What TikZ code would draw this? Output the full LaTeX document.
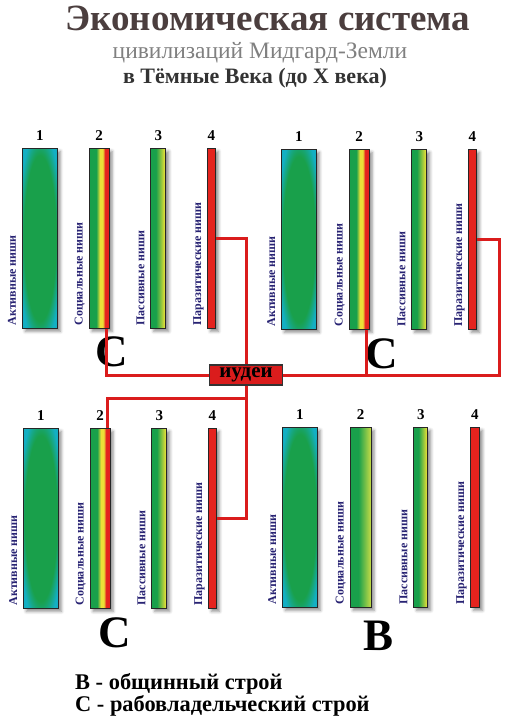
\documentclass[tikz,border=0pt]{standalone}
\usepackage{fontspec}
\setmainfont{Liberation Serif}
\usepackage{tikz}
\usetikzlibrary{positioning, shadows.blur}
\definecolor{nichegreen}{RGB}{25, 160, 75}
\definecolor{nichecyan}{RGB}{20, 175, 195}
\definecolor{nicheyellow}{RGB}{235, 225, 55}
\definecolor{nichelime}{RGB}{200, 220, 70}
\definecolor{nichered}{RGB}{228, 35, 30}
\definecolor{linkred}{RGB}{218, 28, 28}
\definecolor{labelblue}{RGB}{40, 35, 115}
\definecolor{titlegray}{RGB}{75, 62, 62}
\pgfdeclareradialshading{active}{\pgfpoint{0bp}{0bp}}{color(0bp)=(nichegreen); color(23bp)=(nichegreen); color(31bp)=(nichecyan); color(50bp)=(nichecyan)}
\pgfdeclarehorizontalshading{socialC}{100bp}{color(0bp)=(nichegreen); color(43bp)=(nichegreen); color(52bp)=(nicheyellow); color(59bp)=(nicheyellow); color(65bp)=(nichered); color(100bp)=(nichered)}
\pgfdeclarehorizontalshading{socialB}{100bp}{color(0bp)=(nichegreen); color(45bp)=(nichegreen); color(75bp)=(nichelime); color(100bp)=(nichelime)}
\pgfdeclarehorizontalshading{passive}{100bp}{color(0bp)=(nichegreen); color(42bp)=(nichegreen); color(72bp)=(nicheyellow); color(100bp)=(nicheyellow)}
\tikzset{
    bar/.style={rectangle, draw=black!85, line width=0.7pt, inner sep=0pt, minimum height=180pt, blur shadow={shadow xshift=3pt, shadow yshift=-3pt, shadow blur radius=3pt, shadow opacity=45}},
    activebar/.style={bar, minimum width=35pt, shading=active},
    socialbar/.style={bar, minimum width=20pt, shading=socialC},
    passivebar/.style={bar, minimum width=15pt, shading=passive},
    parasitebar/.style={bar, minimum width=8pt, fill=nichered},
    num/.style={inner sep=0pt, font=\bfseries\fontsize{15}{15}\selectfont},
    nichelbl/.style={rotate=90, anchor=base west, inner sep=0pt, text=labelblue, font=\bfseries\fontsize{12}{12}\selectfont},
    order/.style={inner sep=0pt, font=\bfseries\fontsize{45}{45}\selectfont},
    link/.style={draw=linkred, line width=3pt},
    ideabox/.style={rectangle, draw=black!80, line width=1.2pt, fill=linkred, minimum width=73pt, minimum height=20pt, inner sep=0pt, font=\bfseries\fontsize{21}{21}\selectfont}
}
\begin{document}
\begin{tikzpicture}[x=1pt, y=-1pt]
        \useasboundingbox (0,0) rectangle (505,719);

        % Title
        \node [text=titlegray, font=\bfseries\fontsize{37}{37}\selectfont] (title) at (268,18) {Экономическая система};
        \node [text=black!50, font=\fontsize{23.5}{23.5}\selectfont] (subtitle) at (260,53) {цивилизаций Мидгард-Земли};
        \node [text=black!80, font=\bfseries\fontsize{22}{22}\selectfont] (epoch) at (255,78) {в Тёмные Века (до X века)};

        % Panel 1 (top left)
        \node [activebar, anchor=north west] (p1a) at (22,148) {};
        \node [socialbar, right=31pt of p1a] (p1s) {};
        \node [passivebar, right=41pt of p1s] (p1v) {};
        \node [parasitebar, right=41pt of p1v] (p1p) {};
        \node [num, above=7pt of p1a] (n1a) {1};
        \node [num, above=7pt of p1s] (n1s) {2};
        \node [num, above=7pt of p1v] (n1v) {3};
        \node [num, above=7pt of p1p] (n1p) {4};
        \node [nichelbl] (l1a) at ([xshift=-6pt, yshift=3pt]p1a.south west) {Активные ниши};
        \node [nichelbl] (l1s) at ([xshift=-6pt, yshift=3pt]p1s.south west) {Социальные ниши};
        \node [nichelbl] (l1v) at ([xshift=-6pt, yshift=3pt]p1v.south west) {Пассивные ниши};
        \node [nichelbl] (l1p) at ([xshift=-6pt, yshift=3pt]p1p.south west) {Паразитические ниши};
        \node [order] (o1) at (112,352) {С};

        % Panel 2 (top right)
        \node [activebar, anchor=north west] (p2a) at (281,149) {};
        \node [socialbar, right=32pt of p2a] (p2s) {};
        \node [passivebar, right=42pt of p2s] (p2v) {};
        \node [parasitebar, right=41pt of p2v] (p2p) {};
        \node [num, above=7pt of p2a] (n2a) {1};
        \node [num, above=7pt of p2s] (n2s) {2};
        \node [num, above=7pt of p2v] (n2v) {3};
        \node [num, above=7pt of p2p] (n2p) {4};
        \node [nichelbl] (l2a) at ([xshift=-6pt, yshift=3pt]p2a.south west) {Активные ниши};
        \node [nichelbl] (l2s) at ([xshift=-6pt, yshift=3pt]p2s.south west) {Социальные ниши};
        \node [nichelbl] (l2v) at ([xshift=-6pt, yshift=3pt]p2v.south west) {Пассивные ниши};
        \node [nichelbl] (l2p) at ([xshift=-6pt, yshift=3pt]p2p.south west) {Паразитические ниши};
        \node [order] (o2) at (382,354) {С};

        % Panel 3 (bottom left)
        \node [activebar, anchor=north west] (p3a) at (23,428) {};
        \node [socialbar, right=31pt of p3a] (p3s) {};
        \node [passivebar, right=41pt of p3s] (p3v) {};
        \node [parasitebar, right=41pt of p3v] (p3p) {};
        \node [num, above=7pt of p3a] (n3a) {1};
        \node [num, above=7pt of p3s] (n3s) {2};
        \node [num, above=7pt of p3v] (n3v) {3};
        \node [num, above=7pt of p3p] (n3p) {4};
        \node [nichelbl] (l3a) at ([xshift=-6pt, yshift=3pt]p3a.south west) {Активные ниши};
        \node [nichelbl] (l3s) at ([xshift=-6pt, yshift=3pt]p3s.south west) {Социальные ниши};
        \node [nichelbl] (l3v) at ([xshift=-6pt, yshift=3pt]p3v.south west) {Пассивные ниши};
        \node [nichelbl] (l3p) at ([xshift=-6pt, yshift=3pt]p3p.south west) {Паразитические ниши};
        \node [order] (o3) at (115,633) {С};

        % Panel 4 (bottom right)
        \node [activebar, anchor=north west] (p4a) at (282,427) {};
        \node [socialbar, shading=socialB, minimum width=21pt, right=32pt of p4a] (p4s) {};
        \node [passivebar, minimum width=14pt, right=42pt of p4s] (p4v) {};
        \node [parasitebar, minimum width=9pt, right=42pt of p4v] (p4p) {};
        \node [num, above=7pt of p4a] (n4a) {1};
        \node [num, above=7pt of p4s] (n4s) {2};
        \node [num, above=7pt of p4v] (n4v) {3};
        \node [num, above=7pt of p4p] (n4p) {4};
        \node [nichelbl] (l4a) at ([xshift=-6pt, yshift=3pt]p4a.south west) {Активные ниши};
        \node [nichelbl] (l4s) at ([xshift=-6pt, yshift=3pt]p4s.south west) {Социальные ниши};
        \node [nichelbl] (l4v) at ([xshift=-6pt, yshift=3pt]p4v.south west) {Пассивные ниши};
        \node [nichelbl] (l4p) at ([xshift=-6pt, yshift=3pt]p4p.south west) {Паразитические ниши};
        \node [order] (o4) at (379,636) {В};

        % Centre box
        \node [ideabox] (idea) at (246,375) {иудеи};

        % Links
        \draw [link] ([xshift=-3pt]p1s.south east) |- (idea.west);
        \draw [link] (p1p.east) -| (idea.north);
        \draw [link] ([xshift=-3pt]p2s.south east) -- ([xshift=-3pt]p2s.south east |- idea.east);
        \draw [link] (p2p.east) -- ++(23,0) |- (idea.east);
        \draw [link] (idea.south) |- (p3p.east);
        \draw [link] (idea.south) -- ++(0,13) -| ([xshift=-3pt]p3s.north east);

        % Legend
        \node [anchor=north west, align=left, inner sep=0pt, font=\bfseries\fontsize{22.4}{22}\selectfont] (legend) at (75,673) {В - общинный строй\\С - рабовладельческий строй};

    \end{tikzpicture}
\end{document}
